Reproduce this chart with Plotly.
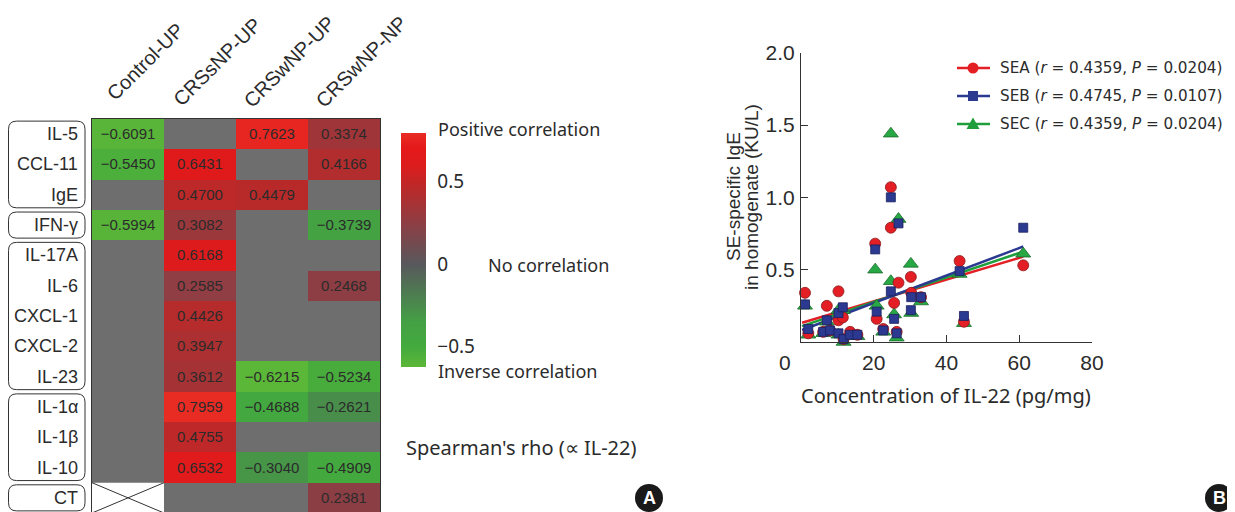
import plotly.graph_objects as go

# ---------------- Panel A data ----------------
columns = ["Control-UP", "CRSsNP-UP", "CRSwNP-UP", "CRSwNP-NP"]
cytokines = ["IL-5", "CCL-11", "IgE", "IFN-γ", "IL-17A", "IL-6", "CXCL-1",
             "CXCL-2", "IL-23", "IL-1α", "IL-1β", "IL-10", "CT"]
rho_control_up = [-0.6091, -0.5450, None, -0.5994, None, None, None, None, None, None, None, None, None]
rho_crssnp_up = [None, 0.6431, 0.4700, 0.3082, 0.6168, 0.2585, 0.4426, 0.3947, 0.3612, 0.7959, 0.4755, 0.6532, None]
rho_crswnp_up = [0.7623, None, 0.4479, None, None, None, None, None, -0.6215, -0.4688, None, -0.3040, None]
rho_crswnp_np = [0.3374, 0.4166, None, -0.3739, None, 0.2468, None, None, -0.5234, -0.2621, None, -0.4909, 0.2381]
not_measured = ("CT", "Control-UP")
row_groups = [(0, 2), (3, 3), (4, 8), (9, 11), (12, 12)]
cbar_ticks = [-0.5, 0, 0.5]
cbar_ticktext = ["−0.5", "0", "0.5"]

# ---------------- Panel B data ----------------
il22 = [1.1, 2.0, 6.1, 7.1, 8.0, 10.3, 10.3, 11.5, 11.7, 13.5, 15.5, 20.4, 20.8, 22.6,
        24.7, 24.7, 25.6, 26.3, 26.8, 30.2, 30.3, 33.0, 43.6, 44.8, 61.1]
sea = [0.34, 0.06, 0.07, 0.25, 0.08, 0.35, 0.15, 0.17, 0.02, 0.07, 0.05, 0.68, 0.16, 0.09,
       1.07, 0.79, 0.27, 0.07, 0.41, 0.45, 0.34, 0.31, 0.56, 0.14, 0.53]
seb = [0.26, 0.09, 0.07, 0.15, 0.08, 0.20, 0.06, 0.24, 0.02, 0.05, 0.05, 0.64, 0.21, 0.08,
       1.00, 0.35, 0.16, 0.06, 0.82, 0.22, 0.31, 0.31, 0.49, 0.18, 0.79]
sec = [0.25, 0.05, 0.06, 0.14, 0.07, 0.22, 0.05, 0.22, 0.00, 0.04, 0.04, 0.50, 0.25, 0.07,
       1.44, 0.42, 0.19, 0.03, 0.85, 0.54, 0.20, 0.28, 0.47, 0.13, 0.61]
fit_x = [0.3, 61.1]
fit_sea = [0.133, 0.59]
fit_seb = [0.083, 0.66]
fit_sec = [0.11, 0.625]
legend_labels = ["SEA (<i>r</i> = 0.4359, <i>P</i> = 0.0204)",
                 "SEB (<i>r</i> = 0.4745, <i>P</i> = 0.0107)",
                 "SEC (<i>r</i> = 0.4359, <i>P</i> = 0.0204)"]
x_ticks = [20, 40, 60, 80]
y_ticks = [0.5, 1.0, 1.5, 2.0]
y_ticktext = ["0.5", "1.0", "1.5", "2.0"]
y_title_lines = ["SE-specific IgE", "in homogenate (KU/L)"]

W, H = 1235, 512
OFF = 8  # page body margin in the rendered html
def px(x):
    return (x - OFF) / W
def py(y):
    return 1 - (y - OFF) / H

ARIAL = "Liberation Sans"
HUM = "Noto Sans"
WIDE = "DejaVu Sans"
TXT = "#2b2b2b"

zmin, zmax = -0.625, 0.795
def t(v):
    return (v - zmin) / (zmax - zmin)
colorscale = [
    [0.0, "#5cb738"],
    [t(-0.5), "#43aa3e"],
    [t(-0.35), "#44a044"],
    [t(-0.25), "#4a8a4c"],
    [t(0.0), "#58585c"],
    [t(0.25), "#8e3e44"],
    [t(0.45), "#b82a2a"],
    [t(0.6), "#dd1c1c"],
    [t(0.7), "#e4181a"],
    [1.0, "#e82c24"],
]

cols_data = [rho_control_up, rho_crssnp_up, rho_crswnp_up, rho_crswnp_np]
z = [[cols_data[c][r] for c in range(len(columns))] for r in range(len(cytokines))]
def fmt(v):
    if v is None:
        return ""
    s = f"{abs(v):.4f}"
    return ("−" + s) if v < 0 else s
text = [[fmt(v) for v in row] for row in z]

fig = go.Figure()

fig.add_trace(go.Heatmap(
    z=z, x=list(range(len(columns))), y=list(range(len(cytokines))),
    text=text, texttemplate="%{text}",
    textfont=dict(family=ARIAL, size=15, color=TXT),
    colorscale=colorscale, zmin=zmin, zmax=zmax,
    hoverongaps=False, xaxis="x", yaxis="y",
    colorbar=dict(
        x=px(401), xanchor="left", xpad=0, ypad=0,
        y=py(250), yanchor="middle",
        thickness=25, thicknessmode="pixels",
        len=234, lenmode="pixels",
        tickvals=cbar_ticks, ticktext=cbar_ticktext,
        ticks="outside", ticklen=8, tickcolor="rgba(0,0,0,0)",
        tickfont=dict(family=HUM, size=19, color=TXT),
        outlinewidth=0,
    ),
))

# ---- Panel B traces ----
RED, BLUE, GREEN = "#e31e25", "#2b3990", "#1f9e3c"
for fy, col in [(fit_sea, RED), (fit_sec, GREEN), (fit_seb, BLUE)]:
    fig.add_trace(go.Scatter(x=fit_x, y=fy, mode="lines", line=dict(color=col, width=2.5),
                             xaxis="x2", yaxis="y2", showlegend=False, hoverinfo="skip"))

fig.add_trace(go.Scatter(x=il22, y=sec, mode="markers", xaxis="x2", yaxis="y2", showlegend=False,
                         cliponaxis=False, name="SEC",
                         marker=dict(symbol="triangle-up", size=13, color="#27a844",
                                     line=dict(color="#1b6b2b", width=0.8))))
fig.add_trace(go.Scatter(x=il22, y=sea, mode="markers", xaxis="x2", yaxis="y2", showlegend=False,
                         cliponaxis=False, name="SEA",
                         marker=dict(symbol="circle", size=11, color=RED,
                                     line=dict(color="#8a1c1c", width=0.8))))
fig.add_trace(go.Scatter(x=il22, y=seb, mode="markers", xaxis="x2", yaxis="y2", showlegend=False,
                         cliponaxis=False, name="SEB",
                         marker=dict(symbol="square", size=9, color=BLUE,
                                     line=dict(color="#1c1f5e", width=0.8))))

# ---------------- shapes & annotations ----------------
shapes = []
annotations = []

def ann(**kw):
    base = dict(showarrow=False, xanchor="center", yanchor="middle")
    base.update(kw)
    annotations.append(base)

shapes.append(dict(type="rect", xref="x domain", yref="y domain", x0=0, x1=1, y0=0, y1=1,
                   fillcolor="#6e6e6e", line=dict(width=0), layer="below"))
ci = columns.index(not_measured[1]); ri = cytokines.index(not_measured[0])
shapes.append(dict(type="rect", xref="x", yref="y", x0=ci - 0.5, x1=ci + 0.5, y0=ri - 0.5, y1=ri + 0.5,
                   fillcolor="white", line=dict(width=0), layer="above"))
shapes.append(dict(type="line", xref="x", yref="y", x0=ci - 0.5, x1=ci + 0.5, y0=ri - 0.5, y1=ri + 0.5,
                   line=dict(color="#333", width=1), layer="above"))
shapes.append(dict(type="line", xref="x", yref="y", x0=ci - 0.5, x1=ci + 0.5, y0=ri + 0.5, y1=ri - 0.5,
                   line=dict(color="#333", width=1), layer="above"))

bx0, bx1 = px(8.5), px(85)
rx = 8 / W
ry = 0.27
for a, b in row_groups:
    y0, y1 = a - 0.5 + 0.07, b + 0.5 - 0.07
    path = (f"M {bx0+rx},{y0} L {bx1-rx},{y0} Q {bx1},{y0} {bx1},{y0+ry} "
            f"L {bx1},{y1-ry} Q {bx1},{y1} {bx1-rx},{y1} L {bx0+rx},{y1} "
            f"Q {bx0},{y1} {bx0},{y1-ry} L {bx0},{y0+ry} Q {bx0},{y0} {bx0+rx},{y0} Z")
    shapes.append(dict(type="path", xref="paper", yref="y", path=path,
                       line=dict(color="#333", width=1)))

cb_bottom = py(367)
cb_len = 234 / H
for v in cbar_ticks:
    yp = cb_bottom + t(v) * cb_len
    for xa, xb in [(401, 406), (421, 426)]:
        shapes.append(dict(type="line", xref="paper", yref="paper", x0=px(xa), x1=px(xb), y0=yp, y1=yp,
                           line=dict(color="white", width=1), layer="above"))

for cx, letter in [(649, "A"), (1219, "B")]:
    shapes.append(dict(type="circle", xref="paper", yref="paper",
                       x0=px(cx - 14), x1=px(cx + 14), y0=py(498 + 14), y1=py(498 - 14),
                       fillcolor="#1a1a1a", line=dict(width=0), layer="above"))
    ann(x=px(cx), y=py(498), xref="paper", yref="paper", text=f"<b>{letter}</b>",
        font=dict(family=ARIAL, size=18, color="white"))

for i, c in enumerate(columns):
    ann(x=i, xref="x", y=py(62), yref="paper", text=c, textangle=-45,
        xshift=17, font=dict(family=ARIAL, size=20, color=TXT))
for r, name in enumerate(cytokines):
    ann(x=px(80), xref="paper", y=r, yref="y", text=name, xanchor="right",
        font=dict(family=ARIAL, size=18, color=TXT))

for txt, xpx, ypx, fs in [("Positive correlation", 436, 129, 18), ("Inverse correlation", 436, 371, 18),
                          ("No correlation", 486, 265, 18), ("Spearman's rho (∝ IL-22)", 404, 447, 20)]:
    ann(x=px(xpx), y=py(ypx), xref="paper", yref="paper", text=txt, xanchor="left",
        font=dict(family=HUM, size=fs, color=TXT))

ann(x=px(946), y=py(395), xref="paper", yref="paper",
    text="Concentration of IL-22 (pg/mg)", font=dict(family=HUM, size=20, color=TXT))
for line_txt, xpx in zip(y_title_lines, [733, 751]):
    ann(x=px(xpx), y=py(197), xref="paper", yref="paper", text=line_txt, textangle=-90,
        font=dict(family=ARIAL, size=19, color=TXT))
ann(x=0, xref="x2", y=py(362), yref="paper", text="0", xshift=-16,
    font=dict(family=ARIAL, size=21, color=TXT))

# ---- legend (drawn by hand for exact placement) ----
leg_rows = [68, 96, 124]
leg_x0, leg_x1, leg_mx, leg_tx = 957, 990, 973, 998
for lab, col, sym, ly in zip(legend_labels, [RED, BLUE, GREEN], ["circle", "square", "triangle"], leg_rows):
    shapes.append(dict(type="line", xref="paper", yref="paper", x0=px(leg_x0), x1=px(leg_x1),
                       y0=py(ly), y1=py(ly), line=dict(color=col, width=2.5)))
    if sym == "circle":
        shapes.append(dict(type="circle", xref="paper", yref="paper", x0=px(leg_mx - 5.5),
                           x1=px(leg_mx + 5.5), y0=py(ly + 5.5), y1=py(ly - 5.5),
                           fillcolor=col, line=dict(width=0)))
    elif sym == "square":
        shapes.append(dict(type="rect", xref="paper", yref="paper", x0=px(leg_mx - 5),
                           x1=px(leg_mx + 5), y0=py(ly + 5), y1=py(ly - 5),
                           fillcolor=col, line=dict(width=0)))
    else:
        shapes.append(dict(type="path", xref="paper", yref="paper",
                           path=(f"M {px(leg_mx-6.5)},{py(ly+5)} L {px(leg_mx+6.5)},{py(ly+5)} "
                                 f"L {px(leg_mx)},{py(ly-6.5)} Z"),
                           fillcolor=col, line=dict(width=0)))
    ann(x=px(leg_tx), y=py(ly), xref="paper", yref="paper", text=lab, xanchor="left",
        font=dict(family=WIDE, size=15.2, color=TXT))

fig.update_layout(
    width=W, height=H, margin=dict(l=0, r=0, t=0, b=0, pad=0, autoexpand=False),
    paper_bgcolor="white", plot_bgcolor="white", showlegend=False,
    xaxis=dict(domain=[px(92), px(380)], range=[-0.5, 3.5], anchor="y", showticklabels=False,
               showgrid=False, zeroline=False, showline=True, mirror=True, linecolor="#333",
               linewidth=1, ticks="", automargin=False),
    yaxis=dict(domain=[py(513), py(119)], range=[12.5, -0.5], anchor="x", showticklabels=False,
               showgrid=False, zeroline=False, showline=True, mirror=True, linecolor="#333",
               linewidth=1, ticks="", automargin=False),
    xaxis2=dict(domain=[px(801), px(1092)], range=[0, 80], anchor="y2", tickvals=x_ticks,
                ticks="inside", ticklen=7, tickcolor="#333", showline=True, linecolor="#333",
                linewidth=1.2, showgrid=False, zeroline=False, ticklabelstandoff=2, automargin=False,
                tickfont=dict(family=ARIAL, size=21, color=TXT)),
    yaxis2=dict(domain=[py(342), py(52.7)], range=[0, 2], anchor="x2", tickvals=y_ticks,
                ticktext=y_ticktext, ticks="inside", ticklen=7, tickcolor="#333", showline=True,
                linecolor="#333", linewidth=1.2, showgrid=False, zeroline=False, ticklabelstandoff=1,
                automargin=False, tickfont=dict(family=ARIAL, size=21, color=TXT)),
    shapes=shapes, annotations=annotations,
)

fig.write_html("out.html")
